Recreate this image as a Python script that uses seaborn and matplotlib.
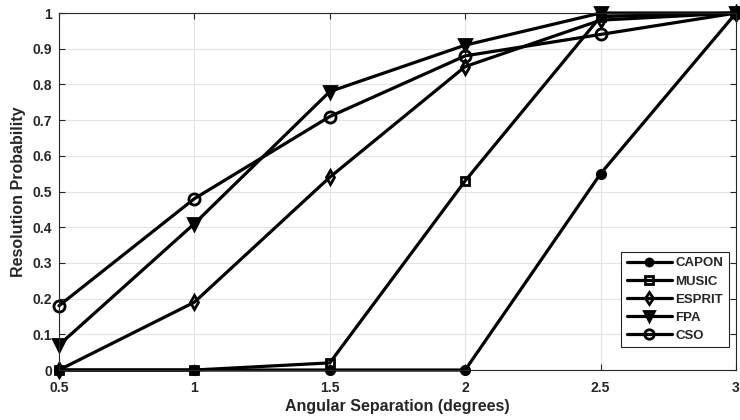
import matplotlib
matplotlib.use("Agg")
import matplotlib.pyplot as plt
import seaborn as sns
import pandas as pd

sep = [0.5, 1.0, 1.5, 2.0, 2.5, 3.0]
capon = [0.0, 0.0, 0.0, 0.0, 0.55, 1.0]
music = [0.0, 0.0, 0.02, 0.53, 0.99, 1.0]
esprit = [0.0, 0.19, 0.54, 0.85, 0.98, 1.0]
fpa = [0.07, 0.41, 0.78, 0.91, 1.0, 1.0]
cso = [0.18, 0.48, 0.71, 0.88, 0.94, 1.0]
names = ["CAPON", "MUSIC", "ESPRIT", "FPA", "CSO"]
series = [capon, music, esprit, fpa, cso]

sns.set_theme(style="white")
plt.rcParams['font.family'] = ['Liberation Sans', 'DejaVu Sans']
plt.rcParams['font.weight'] = 'bold'

fig = plt.figure(figsize=(7.4, 4.2), dpi=100)
ax = fig.add_axes([0.0797, 0.119, 0.9149, 0.850])

styles = {
    "CAPON": dict(marker="o", ms=6, mfc="black"),
    "MUSIC": dict(marker="s", ms=6, mfc="none"),
    "ESPRIT": dict(marker="d", ms=7, mfc="none"),
    "FPA": dict(marker="v", ms=8, mfc="black"),
    "CSO": dict(marker="o", ms=8, mfc="none"),
}
for n, s in zip(names, series):
    df = pd.DataFrame({"x": sep, "y": s})
    st = styles[n]
    sns.lineplot(data=df, x="x", y="y", ax=ax, color="black", lw=2.3,
                 marker=st["marker"], markersize=st["ms"], markerfacecolor=st["mfc"],
                 markeredgecolor="black", markeredgewidth=2, label=n, clip_on=False)

ax.set_xlim(0.5, 3)
ax.set_ylim(0, 1)
ax.set_xticks([0.5, 1, 1.5, 2, 2.5, 3])
ax.set_xticklabels(["0.5", "1", "1.5", "2", "2.5", "3"])
ax.set_yticks([i / 10 for i in range(11)])
ax.set_yticklabels(["0"] + [f"{i/10:.1f}" for i in range(1, 10)] + ["1"])
ax.grid(True, color="#e3e3e3", lw=0.8)
ax.tick_params(direction="in", length=4, width=0.8, colors="#262626", labelsize=10,
               top=True, right=True, bottom=True, left=True)
ax.tick_params(axis="x", pad=8)
ax.tick_params(axis="y", pad=5)
for lab in ax.get_xticklabels() + ax.get_yticklabels():
    lab.set_fontweight("bold")
for sp in ax.spines.values():
    sp.set_color("#262626")
    sp.set_linewidth(0.8)
ax.set_xlabel("Angular Separation (degrees)", fontsize=11.5, fontweight="bold", labelpad=3)
ax.set_ylabel("Resolution Probability", fontsize=11.5, fontweight="bold", labelpad=5)

leg = ax.legend(loc="lower right", fontsize=9.5, frameon=True, fancybox=False,
                edgecolor="#262626", framealpha=1, handlelength=3.4, borderpad=0.4,
                labelspacing=0.45, handletextpad=0.3, markerscale=0.85,
                bbox_to_anchor=(0.999, 0.045))
leg.get_frame().set_linewidth(0.8)
for t in leg.get_texts():
    t.set_fontweight("bold")

fig.savefig("out.png", dpi=100)
